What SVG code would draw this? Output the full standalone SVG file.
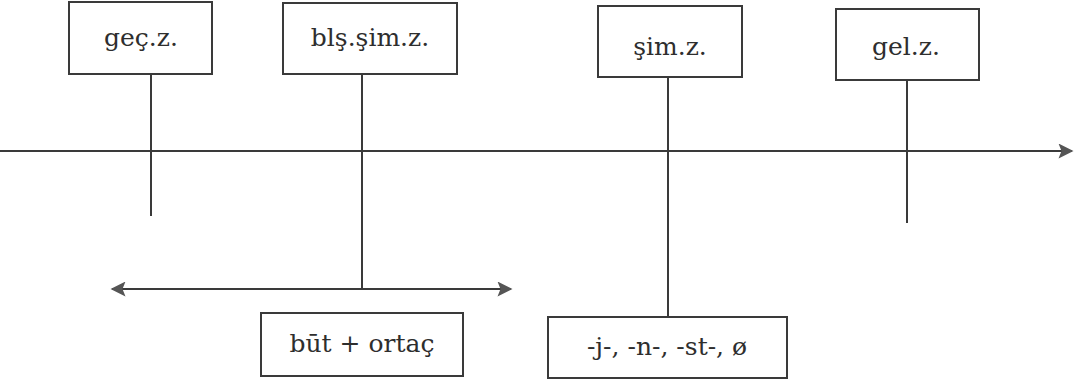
<svg xmlns="http://www.w3.org/2000/svg" width="1075" height="383" viewBox="0 0 1075 383">
<style>
.box{fill:#fff;stroke:#3a3a3a;stroke-width:2}
.ln{stroke:#3a3a3a;stroke-width:2;fill:none}
.t{font-family:'DejaVu Serif',serif;font-size:25px;fill:#2e2e2e;text-anchor:middle}
</style>
<defs>
<marker id="ah2" viewBox="0 0 10 10" refX="9" refY="5" markerWidth="17" markerHeight="15" markerUnits="userSpaceOnUse" orient="auto-start-reverse">
<path d="M0,0 L10,5 L0,10 L2,5 z" fill="#555"/>
</marker>
</defs>
<g id="connectors">
<line class="ln" x1="0" y1="151" x2="1072" y2="151" marker-end="url(#ah2)"/>
<line class="ln" x1="151" y1="74" x2="151" y2="216"/>
<line class="ln" x1="362" y1="74" x2="362" y2="289"/>
<line class="ln" x1="668" y1="77" x2="668" y2="317"/>
<line class="ln" x1="907" y1="80" x2="907" y2="223"/>
<line class="ln" x1="112" y1="289" x2="511" y2="289" marker-start="url(#ah2)" marker-end="url(#ah2)"/>
</g>
<g id="gec">
<rect class="box" x="69" y="2" width="143" height="72"/>
<text class="t" x="141" y="46">geç.z.</text>
</g>
<g id="bls">
<rect class="box" x="283" y="3" width="174" height="71"/>
<text class="t" x="370" y="46">blş.şim.z.</text>
</g>
<g id="sim">
<rect class="box" x="598" y="6" width="144" height="71"/>
<text class="t" x="670" y="55">şim.z.</text>
</g>
<g id="gel">
<rect class="box" x="836" y="9" width="143" height="71"/>
<text class="t" x="906" y="55">gel.z.</text>
</g>
<g id="but">
<rect class="box" x="261" y="313" width="202" height="63"/>
<text class="t" x="362" y="352">būt + ortaç</text>
</g>
<g id="suffix">
<rect class="box" x="548" y="317" width="239" height="61"/>
<text class="t" x="667" y="355">-j-, -n-, -st-, ø</text>
</g>
</svg>
